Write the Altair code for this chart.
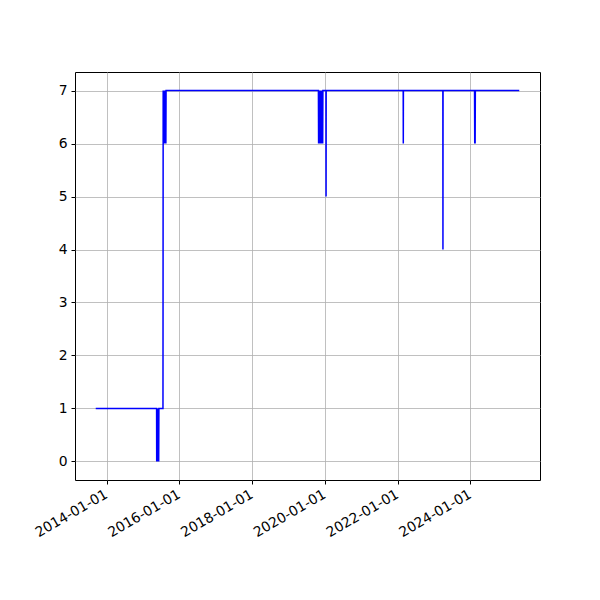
import altair as alt
import pandas as pd

dates = [
    "2013-09-14", "2015-05-18", "2015-05-19", "2015-05-21", "2015-05-23", "2015-05-25",
    "2015-05-27", "2015-05-29", "2015-05-31", "2015-06-02", "2015-06-04", "2015-06-06",
    "2015-06-08", "2015-06-10", "2015-07-21", "2015-07-23", "2015-07-25", "2015-07-27",
    "2015-07-29", "2015-07-31", "2015-08-02", "2015-08-05", "2015-08-08", "2015-08-11",
    "2015-08-14", "2015-08-17", "2015-08-19", "2015-08-21",
    "2019-10-28", "2019-10-30", "2019-11-02", "2019-11-05", "2019-11-08", "2019-11-11",
    "2019-11-14", "2019-11-17", "2019-11-20", "2019-11-23", "2019-11-26", "2019-11-29",
    "2019-12-02", "2019-12-05", "2019-12-08", "2019-12-10", "2019-12-12",
    "2020-01-12", "2020-01-13", "2020-01-14",
    "2022-02-25", "2022-02-26", "2022-02-27",
    "2023-03-30", "2023-03-31", "2023-04-01",
    "2024-02-11", "2024-02-13", "2024-02-15", "2024-02-17", "2024-02-19",
    "2025-05-05",
]
values = [
    1, 1, 0, 1, 0, 1,
    0, 1, 0, 1, 0, 1,
    0, 1, 1, 7, 6, 7,
    6, 7, 6, 7, 6, 7,
    6, 7, 6, 7,
    7, 6, 7, 6, 7, 6,
    7, 6, 7, 6, 7, 6,
    7, 6, 7, 6, 7,
    7, 5, 7,
    7, 6, 7,
    7, 4, 7,
    7, 6, 7, 6, 7,
    7,
]
tick_dates = ["2014-01-01", "2016-01-01", "2018-01-01", "2020-01-01", "2022-01-01", "2024-01-01"]
y_ticks = [0, 1, 2, 3, 4, 5, 6, 7]

df = pd.DataFrame({"date": pd.to_datetime(dates), "value": values})

x_domain = [alt.DateTime(year=2013, month=2, date=18), alt.DateTime(year=2025, month=11, date=29)]
x_ticks = [alt.DateTime(year=int(d[:4]), month=1, date=1) for d in tick_dates]

chart = alt.Chart(df).mark_line(color="#0000ff", strokeWidth=1.5, interpolate="linear").encode(
    x=alt.X("date:T",
            scale=alt.Scale(domain=x_domain, nice=False),
            axis=alt.Axis(values=x_ticks, format="%Y-%m-%d", title=None, labelAngle=330,
                          labelAlign="right", labelBaseline="top", labelPadding=3,
                          labelOffset=-4,
                          labelOverlap=False, labelFlush=False,
                          grid=True, gridColor="#b0b0b0", gridWidth=0.8,
                          tickColor="black", tickSize=4, domain=False,
                          labelFont="DejaVu Sans", labelFontSize=13.9, labelColor="black")),
    y=alt.Y("value:Q",
            scale=alt.Scale(domain=[-0.35, 7.35], nice=False, zero=False),
            axis=alt.Axis(values=y_ticks, format="d", title=None,
                          labelOverlap=False, labelFlush=False,
                          grid=True, gridColor="#b0b0b0", gridWidth=0.8,
                          tickColor="black", tickSize=4, labelPadding=4, domain=False,
                          labelFont="DejaVu Sans", labelFontSize=13.9, labelColor="black")),
    order="date:T",
).properties(
    width=465, height=408,
    autosize=alt.AutoSizeParams(type="none"),
    padding={"left": 67, "top": 64, "right": 52, "bottom": 112},
).configure_view(stroke="black", strokeWidth=1)

chart.save("out.html", embed_options={"renderer": "svg", "actions": False})
